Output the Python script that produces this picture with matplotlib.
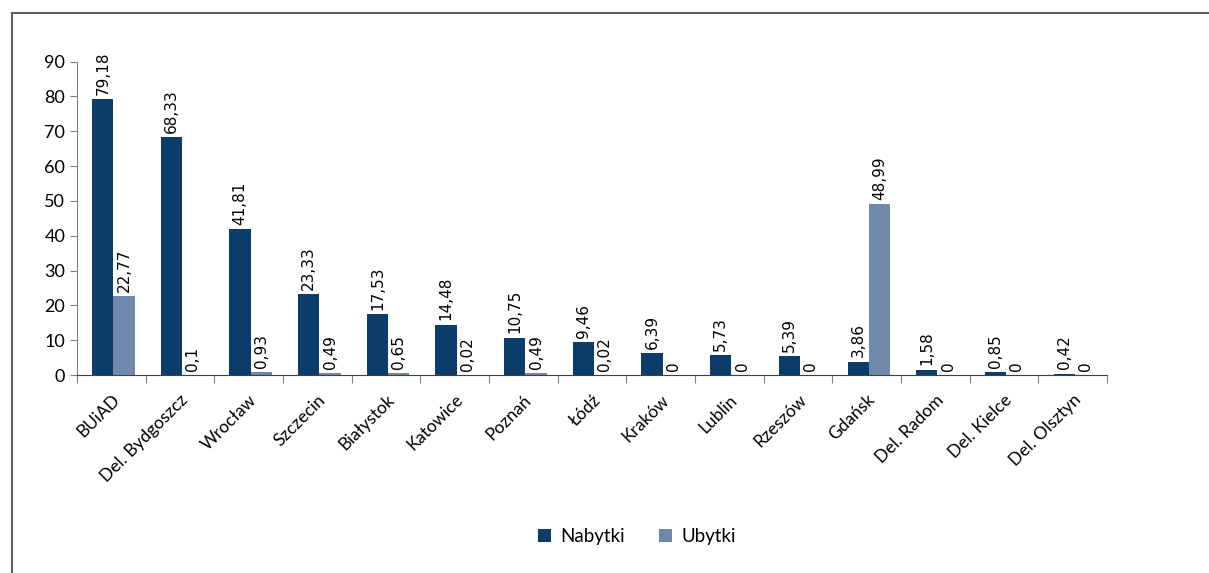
import matplotlib.pyplot as plt
from matplotlib.lines import Line2D
import numpy as np

plt.rcParams['font.family'] = ['Lato', 'DejaVu Sans']

miasta = ['BUiAD', 'Del. Bydgoszcz', 'Wrocław', 'Szczecin', 'Białystok', 'Katowice',
          'Poznań', 'Łódź', 'Kraków', 'Lublin', 'Rzeszów', 'Gdańsk',
          'Del. Radom', 'Del. Kielce', 'Del. Olsztyn']
nabytki = [79.18, 68.33, 41.81, 23.33, 17.53, 14.48, 10.75, 9.46, 6.39, 5.73, 5.39, 3.86, 1.58, 0.85, 0.42]
ubytki = [22.77, 0.1, 0.93, 0.49, 0.65, 0.02, 0.49, 0.02, 0, 0, 0, 48.99, 0, 0, 0]

kol_nab = '#0b3c6a'
kol_ub = '#7088aa'

fig = plt.figure(figsize=(12.09, 5.73), dpi=100)
ax = fig.add_axes([0.0637, 0.3455, 0.852, 0.547])

x = np.arange(len(miasta))
w = 0.31
b1 = ax.bar(x - w / 2 + 0.03, nabytki, w, color=kol_nab, label='Nabytki')
b2 = ax.bar(x + w / 2 + 0.03, ubytki, w, color=kol_ub, label='Ubytki')

def fmt(v):
    s = ('%.2f' % v).rstrip('0').rstrip('.')
    return s.replace('.', ',')

for bars, vals in ((b1, nabytki), (b2, ubytki)):
    for r, v in zip(bars, vals):
        ax.annotate(fmt(v), (r.get_x() + r.get_width() / 2, v), xytext=(0, 3),
                    textcoords='offset points', rotation=90, ha='center', va='bottom',
                    fontsize=11, family='DejaVu Sans')

ax.set_xlim(-0.5, len(miasta) - 0.5)
ax.set_ylim(0, 90)
ax.set_yticks(range(0, 91, 10))
ax.tick_params(axis='y', labelsize=13, length=5, color='#808080')
ax.set_xticks(np.append(x - 0.5, len(miasta) - 0.5))
ax.set_xticklabels([])
ax.set_xticks(x, minor=True)
ax.set_xticklabels(miasta, minor=True, rotation=45, ha='right', rotation_mode='anchor', fontsize=12.5)
ax.tick_params(axis='x', which='major', length=6, color='#808080')
ax.tick_params(axis='x', which='minor', length=0, pad=12)
for s in ('top', 'right'):
    ax.spines[s].set_visible(False)
ax.spines['left'].set_color('#808080')
ax.spines['bottom'].set_color('#404040')

fig.legend(handles=[b1, b2], loc='center', bbox_to_anchor=(0.527, 0.063), ncol=2,
           frameon=False, fontsize=13.5, handlelength=0.7, handleheight=0.7,
           handletextpad=0.5, columnspacing=1.8)

fig.add_artist(Line2D([0.0099, 0.999], [0.977, 0.977], color='#606060', lw=1.5))
fig.add_artist(Line2D([0.0099, 0.0099], [0.977, 0.0], color='#606060', lw=1.5))

fig.savefig('out.png')
